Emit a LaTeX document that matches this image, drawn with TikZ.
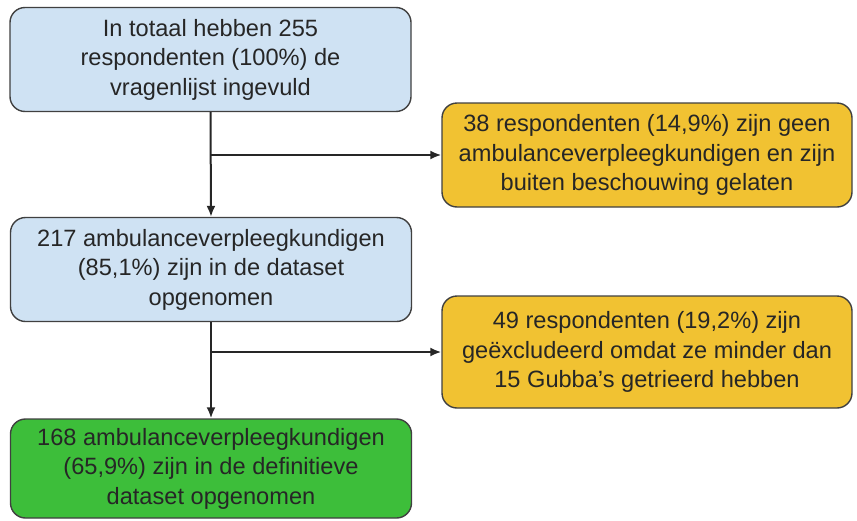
\documentclass[tikz,border=0pt]{standalone}
\usepackage{fontspec}
\setmainfont{Liberation Sans}
\usetikzlibrary{arrows.meta}

\definecolor{stepblue}{HTML}{CFE2F3}
\definecolor{stepyellow}{HTML}{F1C232}
\definecolor{stepgreen}{HTML}{3DBE3A}

\begin{document}
\begin{tikzpicture}[
    x=0.5pt, y=-0.5pt,
    box/.style={draw=black!75, line width=0.7pt, rounded corners=7.5pt,
        align=center, inner sep=0pt, text=black!85,
        font=\fontsize{11.8}{14.8}\selectfont},
    flow box/.style={box, fill=stepblue, minimum width=200.5pt,
        minimum height=52pt},
    drop box/.style={box, fill=stepyellow, minimum width=205pt,
        minimum height=52pt},
    final box/.style={box, fill=stepgreen, minimum width=200.5pt,
        minimum height=49.5pt},
    flow/.style={draw=black!85, line width=1pt,
        -{Latex[length=5.5pt, width=4.5pt]}}
]
\path[use as bounding box] (0,0) rectangle (857,520);

% main column
\node[flow box] (total) at (210.5,59.5)
    {In totaal hebben 255\\respondenten (100\%) de\\vragenlijst ingevuld};
\node[flow box] (nurses) at (211,269.5)
    {217 ambulanceverpleegkundigen\\(85,1\%) zijn in de dataset\\opgenomen};
\node[final box] (final) at (211,468.5)
    {168 ambulanceverpleegkundigen\\(65,9\%) zijn in de definitieve\\dataset opgenomen};

% exclusions
\node[drop box] (other) at (647,155)
    {38 respondenten (14,9\%) zijn geen\\ambulanceverpleegkundigen en zijn\\buiten beschouwing gelaten};
\node[drop box, minimum height=56pt] (few) at (647,352)
    {49 respondenten (19,2\%) zijn\\geëxcludeerd omdat ze minder dan\\15 Gubba’s getrieerd hebben};

\coordinate (split-a) at (total.south |- other.west);
\coordinate (split-b) at (nurses.south |- few.west);

\draw[flow] (total.south) -- (nurses.north);
\draw[flow] (split-a) -- (other.west);
\draw[flow] (nurses.south) -- (final.north);
\draw[flow] (split-b) -- (few.west);

\end{tikzpicture}
\end{document}
